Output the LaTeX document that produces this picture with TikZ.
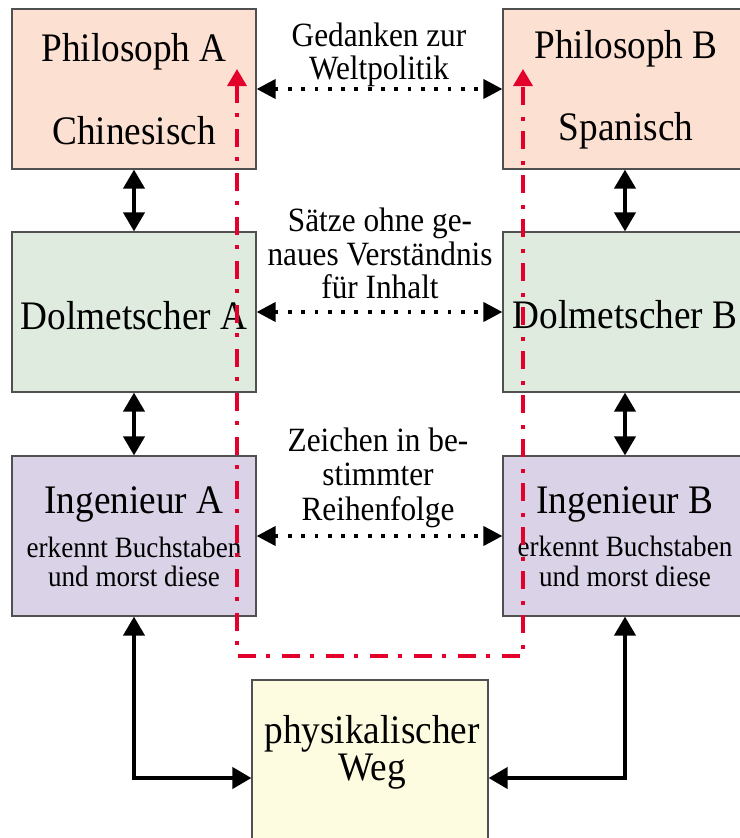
\documentclass[tikz,border=0pt]{standalone}
\usepackage{fontspec}
\setmainfont{Liberation Serif}
\usetikzlibrary{arrows.meta,calc}
\definecolor{bordergray}{HTML}{505050}
\definecolor{philfill}{HTML}{FCE0D2}
\definecolor{dolmfill}{HTML}{DEEBDE}
\definecolor{ingfill}{HTML}{DAD3E8}
\definecolor{wegfill}{HTML}{FEFCE0}
\definecolor{pathred}{HTML}{E3002B}
\newcommand{\hsq}[1]{\scalebox{0.92}[1]{#1}}
\begin{document}
\begin{tikzpicture}[x=1pt,y=-1pt,
  box/.style={draw=bordergray, line width=1.2pt, minimum width=244pt, minimum height=160pt, inner sep=0pt},
  bigtxt/.style={anchor=base, inner sep=0pt, font=\fontsize{40.5}{40}\selectfont},
  smalltxt/.style={anchor=base, inner sep=0pt, font=\fontsize{29.5}{29}\selectfont},
  labtxt/.style={anchor=base, inner sep=0pt, font=\fontsize{34}{34}\selectfont},
  varrow/.style={line width=4pt, {Triangle[length=19pt,width=21pt]}-{Triangle[length=19pt,width=21pt]}},
  darrow/.style={line width=3.8pt, dash pattern=on 3.8pt off 9.5pt, {Triangle[length=19pt,width=19pt]}-{Triangle[length=19pt,width=19pt]}},
  redpath/.style={draw=pathred, line width=3.5pt, dash pattern=on 18pt off 10pt on 4pt off 12pt, {Triangle[length=17pt,width=19pt]}-{Triangle[length=17pt,width=19pt]}}
]
\useasboundingbox (0,0) rectangle (739,838);

% boxes
\node[box, fill=philfill] (pa) at (134,89) {};
\node[box, fill=philfill] (pb) at (625,89) {};
\node[box, fill=dolmfill] (da) at (134,312) {};
\node[box, fill=dolmfill] (db) at (625,312) {};
\node[box, fill=ingfill] (ia) at (134,536) {};
\node[box, fill=ingfill] (ib) at (625,536) {};
\node[box, fill=wegfill, minimum width=236pt] (pw) at (370,760) {};

% box texts
\node[bigtxt] (pa1) at (134,61.5) {\hsq{Philosoph A}};
\node[bigtxt] (pa2) at (134,144) {\hsq{Chinesisch}};
\node[bigtxt] (pb1) at (626,58.5) {\hsq{Philosoph B}};
\node[bigtxt] (pb2) at (626,140) {\hsq{Spanisch}};
\node[bigtxt] (da1) at (134,329) {\hsq{Dolmetscher A}};
\node[bigtxt] (db1) at (625,328) {\hsq{Dolmetscher B}};
\node[bigtxt] (ia1) at (134,513) {\hsq{Ingenieur A}};
\node[smalltxt] (ia2) at (134,557) {\hsq{erkennt Buchstaben}};
\node[smalltxt] (ia3) at (134,586) {\hsq{und morst diese}};
\node[bigtxt] (ib1) at (625,513) {\hsq{Ingenieur B}};
\node[smalltxt] (ib2) at (625,556) {\hsq{erkennt Buchstaben}};
\node[smalltxt] (ib3) at (625,586) {\hsq{und morst diese}};
\node[bigtxt] (pw1) at (372,743) {\hsq{physikalischer}};
\node[bigtxt] (pw2) at (372,780) {\hsq{Weg}};

% edge labels
\node[labtxt] (l11) at (379,46.5) {\hsq{Gedanken zur}};
\node[labtxt] (l12) at (379,79) {\hsq{Weltpolitik}};
\node[labtxt] (l21) at (380,231.5) {\hsq{Sätze ohne ge-}};
\node[labtxt] (l22) at (380,265) {\hsq{naues Verständnis}};
\node[labtxt] (l23) at (380,298.5) {\hsq{für Inhalt}};
\node[labtxt] (l31) at (378,451) {\hsq{Zeichen in be-}};
\node[labtxt] (l32) at (378,485.5) {\hsq{stimmter}};
\node[labtxt] (l33) at (378,520) {\hsq{Reihenfolge}};

% vertical arrows
\draw[varrow] (pa.south) -- (da.north);
\draw[varrow] (pb.south) -- (db.north);
\draw[varrow] (da.south) -- (ia.north);
\draw[varrow] (db.south) -- (ib.north);
\draw[varrow] (ia.south) |- ($(pw.west)+(0,18)$);
\draw[varrow] (ib.south) |- ($(pw.east)+(0,18)$);

% dotted arrows
\draw[darrow] (pa.east) -- (pb.west);
\draw[darrow] (da.east) -- (db.west);
\draw[darrow] (ia.east) -- (ib.west);

% red path
\coordinate (ra) at (237,69);
\coordinate (rb) at (523,69);
\coordinate (rc) at (237,656);
\coordinate (rd) at (523,656);
\draw[redpath] (ra) -- (rc) -- (rd) -- (rb);
\end{tikzpicture}
\end{document}
